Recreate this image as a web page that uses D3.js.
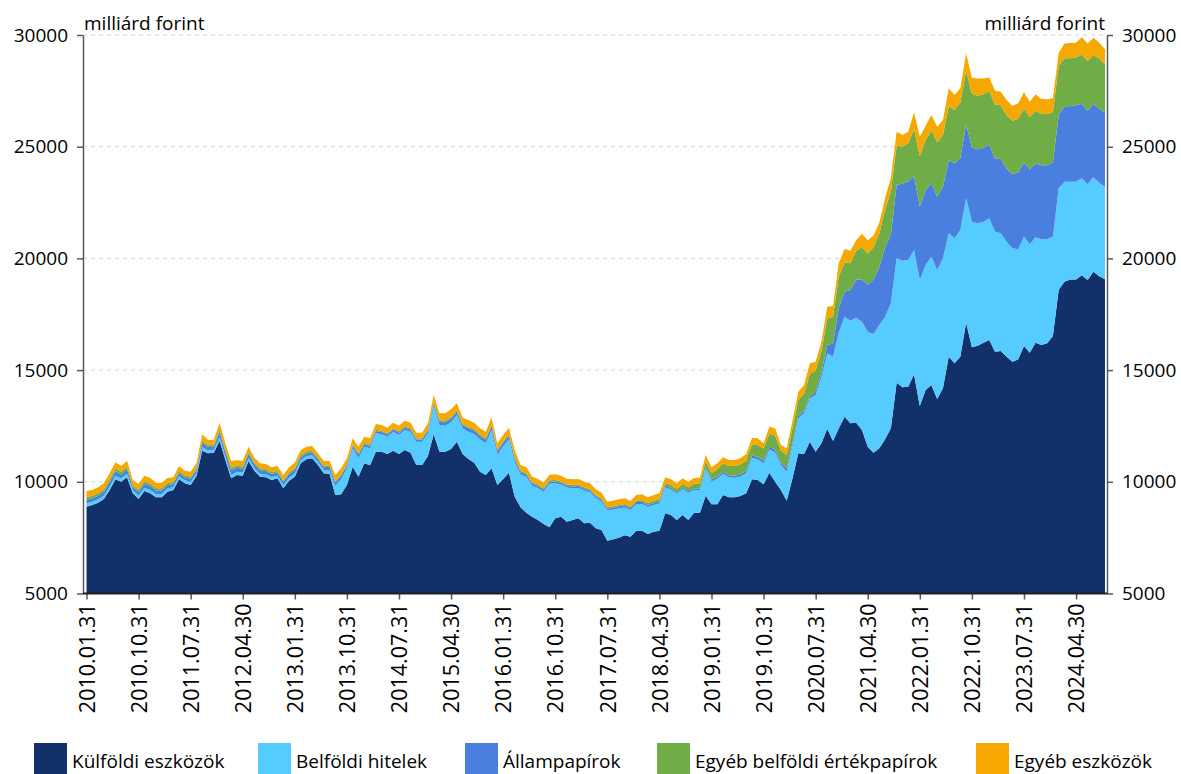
<!DOCTYPE html>
<html>
<head>
<meta charset="utf-8">
<script src="https://cdn.jsdelivr.net/npm/d3@7"></script>
<style>
  body { margin: 0; background: #ffffff; }
  svg { display: block; font-family: "Open Sans", "Noto Sans", sans-serif; }
</style>
</head>
<body>
<svg id="chart" width="1181" height="774"></svg>
<script>
// Monthly balance sheet components, billion HUF, 2010.01 – 2024.09
const kulfoldiEszkozok = [8886,8961,9065,9230,9632,10110,10006,10200,9483,9230,
9588,9483,9304,9304,9558,9632,10110,9931,9856,10259,
11393,11274,11303,11841,10975,10155,10304,10274,10930,10498,
10229,10200,10080,10155,9707,10050,10229,10826,11005,11050,
10751,10378,10349,9408,9438,9856,10677,10229,10826,10737,
11348,11348,11244,11393,11244,11423,11303,10751,10751,11154,
12124,11348,11348,11468,11796,11244,11020,10856,10453,10304,
10602,9856,10125,10408,9334,8856,8618,8439,8290,8110,
7961,8364,8439,8215,8290,8364,8140,8170,7917,7842,
7365,7424,7499,7603,7544,7812,7812,7663,7767,7812,
8588,8513,8290,8513,8290,8618,8618,9370,9000,9000,
9408,9304,9304,9364,9483,10110,10080,9886,10408,10006,
9632,9155,10155,11274,11244,11796,11348,11721,12378,11826,
12393,12915,12617,12647,12318,11572,11304,11498,11900,12393,
14437,14228,14258,14810,13392,14109,14332,13706,14183,15600,
15302,15600,17122,16018,16093,16227,16346,15824,15854,15600,
15377,15481,16078,15780,16227,16123,16198,16525,18600,18960,
19060,19060,19250,19030,19400,19200,19062];

const belfoldiHitelek = [150,150,150,150,160,160,155,160,140,150,
150,150,145,145,140,140,140,135,140,135,
150,140,135,160,150,150,145,145,140,135,
135,135,130,130,135,135,140,135,135,140,
140,150,170,404,690,746,821,838,746,761,
821,776,776,850,850,895,940,1045,1045,1015,
1256,1194,1164,1193,1194,1148,1223,1283,1447,1417,
1716,1365,1470,1492,1566,1475,1610,1390,1435,1450,
1950,1570,1435,1525,1420,1361,1466,1361,1345,1271,
1345,1331,1316,1257,1196,1197,1197,1221,1192,1221,
1171,1142,1171,1164,1214,1017,1010,1219,1009,1138,
947,901,881,876,901,955,935,936,1039,1300,
1119,1298,1450,1566,1819,1940,2537,2985,3372,3774,
4300,4476,4595,4699,4849,5148,5311,5520,5491,5595,
5565,5670,5670,5565,5640,5595,5745,5774,5819,5521,
5595,5670,5566,5625,5475,5416,5446,5372,5267,5148,
5073,4924,4894,4849,4715,4729,4669,4447,4535,4474,
4374,4374,4333,4285,4228,4189,4148];

const allampapirok = [160,150,160,165,190,200,170,190,130,160,
170,180,160,165,150,130,140,130,140,130,
200,140,130,230,210,220,180,170,170,140,
150,150,140,130,150,150,160,140,130,120,
110,120,150,150,140,110,110,140,110,110,
100,100,95,95,100,100,95,95,95,110,
130,140,150,160,140,130,150,150,150,160,
180,150,150,150,140,100,100,90,90,90,
90,85,85,85,85,85,85,85,85,85,
85,85,85,85,85,85,85,80,80,80,
70,70,70,70,70,75,75,80,90,90,
90,90,90,90,100,110,110,120,120,130,
100,149,120,105,120,104,149,200,350,600,
1100,1111,1370,1715,1894,2101,2446,2582,3109,3069,
3291,3443,3522,3317,3302,3349,3295,3285,3210,3289,
3354,3220,3320,3326,3322,3307,3305,3262,3337,3263,
3322,3445,3327,3350,3309,3319,3304,3327,3272,3372,
3372,3416,3335,3283,3290,3311,3325];

const egyebBelfoldiErtekpapirok = [120,115,115,115,118,120,116,116,97,101,
106,112,97,97,92,88,87,92,87,92,
101,86,92,105,106,105,96,91,92,87,
82,81,77,82,82,82,87,87,82,82,
73,72,66,70,70,70,70,75,70,70,
65,65,62,63,65,65,63,63,63,70,
75,75,80,80,75,70,70,70,65,65,
70,70,70,70,70,60,60,65,65,65,
65,65,65,65,65,65,65,65,65,65,
65,65,65,65,65,65,85,90,110,120,
120,135,150,160,180,200,220,250,280,330,
380,410,430,450,480,500,520,550,600,620,
550,600,675,716,750,1000,943,944,1200,1200,
1400,1325,1197,1277,1437,1389,1437,1500,1700,1943,
1756,1660,1700,2095,2236,2236,2364,2444,2316,2396,
2395,2476,2395,2396,2396,2400,2396,2428,2396,2396,
2395,2400,2395,2348,2347,2316,2284,2268,2201,2156,
2156,2150,2204,2236,2172,2250,2139];

const egyebEszkozok = [270,257,262,270,280,280,260,280,230,260,
260,260,240,250,230,210,230,210,230,210,
280,230,210,310,280,300,250,250,240,220,
230,230,220,210,230,230,240,220,220,210,
200,210,210,272,270,268,267,290,268,267,
253,253,245,245,253,253,245,245,245,267,
300,307,322,342,307,278,303,287,277,297,
317,280,280,302,313,260,260,250,250,250,
250,250,250,250,250,250,250,250,250,250,
250,250,250,250,250,250,260,250,260,250,
250,250,250,250,250,260,260,280,270,270,
270,270,270,270,280,300,300,230,300,337,
246,298,345,373,400,462,400,422,539,469,
600,591,559,479,607,607,511,500,500,600,
623,521,522,750,878,636,681,686,666,805,
667,645,775,724,764,700,610,621,608,682,
653,700,738,688,745,647,664,597,600,663,
678,655,772,791,789,705,683];

const xTickLabels = ["2010.01.31","2010.10.31","2011.07.31","2012.04.30","2013.01.31",
  "2013.10.31","2014.07.31","2015.04.30","2016.01.31","2016.10.31","2017.07.31",
  "2018.04.30","2019.01.31","2019.10.31","2020.07.31","2021.04.30","2022.01.31",
  "2022.10.31","2023.07.31","2024.04.30"];
const yTicks = [5000, 10000, 15000, 20000, 25000, 30000];

const seriesNames = ["Külföldi eszközök", "Belföldi hitelek", "Állampapírok",
  "Egyéb belföldi értékpapírok", "Egyéb eszközök"];
const seriesColors = ["#12316b", "#55cbff", "#4a7fe0", "#70ad47", "#f6a800"];

(function drawChart() {
  const seriesValues = [kulfoldiEszkozok, belfoldiHitelek, allampapirok,
    egyebBelfoldiErtekpapirok, egyebEszkozok];

  // month-end labels, one per observation
  const fmt = d3.utcFormat("%Y.%m.%d");
  const monthStarts = d3.utcMonth.range(new Date(Date.UTC(2010, 0, 1)), new Date(Date.UTC(2024, 9, 1)));
  const dates = monthStarts.map(d => fmt(d3.utcDay.offset(d3.utcMonth.offset(d, 1), -1)));

  const rows = dates.map((d, i) => {
    const r = { date: d };
    seriesNames.forEach((k, j) => r[k] = seriesValues[j][i]);
    return r;
  });

  const svg = d3.select("#chart");
  const plotLeft = 83, plotRight = 1107, plotTop = 35, plotBottom = 593.5;

  const x = d3.scalePoint().domain(dates).range([86.5, 1105]);
  const y = d3.scaleLinear().domain([5000, 30000]).range([plotBottom, plotTop]);

  // dashed horizontal grid
  svg.append("g").selectAll("line")
    .data(yTicks.slice(1))
    .join("line")
    .attr("x1", plotLeft).attr("x2", plotRight)
    .attr("y1", d => y(d)).attr("y2", d => y(d))
    .attr("stroke", "#d4d4d4").attr("stroke-width", 1)
    .attr("stroke-dasharray", "4,4");

  svg.append("clipPath").attr("id", "plotClip")
    .append("rect").attr("x", plotLeft).attr("y", plotTop - 5)
    .attr("width", plotRight - plotLeft).attr("height", plotBottom - plotTop + 5);

  const layers = d3.stack().keys(seriesNames)(rows);

  const area = d3.area()
    .x(d => x(d.data.date))
    .y0(d => y(d[0]))
    .y1(d => y(d[1]));

  svg.append("g").attr("clip-path", "url(#plotClip)")
    .selectAll("path")
    .data(layers)
    .join("path")
    .attr("fill", (d, i) => seriesColors[i])
    .attr("d", area);

  // axes
  const axisColor = "#595959";
  const yTickFont = 19;
  const xTickFont = 21.5;

  const yLeft = svg.append("g").attr("transform", `translate(${plotLeft},0)`)
    .call(d3.axisLeft(y).tickValues(yTicks).tickSize(6).tickSizeOuter(0).tickPadding(9).tickFormat(d3.format("d")));
  const yRight = svg.append("g").attr("transform", `translate(${plotRight},0)`)
    .call(d3.axisRight(y).tickValues(yTicks).tickSize(6).tickSizeOuter(0).tickPadding(9).tickFormat(d3.format("d")));
  [yLeft, yRight].forEach(g => {
    g.select(".domain").attr("stroke", axisColor).attr("stroke-width", 1.5);
    g.selectAll(".tick line").attr("stroke", axisColor).attr("stroke-width", 1.5);
    g.selectAll(".tick text").attr("font-size", yTickFont).attr("fill", "#000")
      .attr("font-family", '"Open Sans", sans-serif');
  });

  const xAxis = svg.append("g").attr("transform", `translate(0,${plotBottom})`)
    .call(d3.axisBottom(x).tickValues(xTickLabels).tickSize(6).tickSizeOuter(0));
  xAxis.select(".domain").remove();
  xAxis.selectAll(".tick line").attr("stroke", axisColor).attr("stroke-width", 1.5);
  xAxis.selectAll(".tick text")
    .attr("font-size", xTickFont).attr("fill", "#000")
    .attr("font-family", '"Open Sans", sans-serif')
    .attr("text-anchor", "end")
    .attr("transform", "rotate(-90)")
    .attr("x", -10).attr("y", 0).attr("dy", "0.36em");
  svg.append("line")
    .attr("x1", plotLeft).attr("x2", plotRight)
    .attr("y1", plotBottom).attr("y2", plotBottom)
    .attr("stroke", "#1f1f1f").attr("stroke-width", 2);

  // unit labels
  svg.append("text").attr("x", 84).attr("y", 30)
    .attr("font-size", 19).attr("fill", "#000").text("milliárd forint");
  svg.append("text").attr("x", 1105).attr("y", 30).attr("text-anchor", "end")
    .attr("font-size", 19).attr("fill", "#000").text("milliárd forint");

  // legend
  const legendX = [34, 258, 465, 657, 976];
  const legend = svg.append("g");
  seriesNames.forEach((name, i) => {
    legend.append("rect")
      .attr("x", legendX[i]).attr("y", 743)
      .attr("width", 33).attr("height", 33)
      .attr("fill", seriesColors[i]);
    legend.append("text")
      .attr("x", legendX[i] + 38).attr("y", 761).attr("dy", "0.35em")
      .attr("font-size", 19).attr("fill", "#000").text(name);
  });
})();
</script>
</body>
</html>
